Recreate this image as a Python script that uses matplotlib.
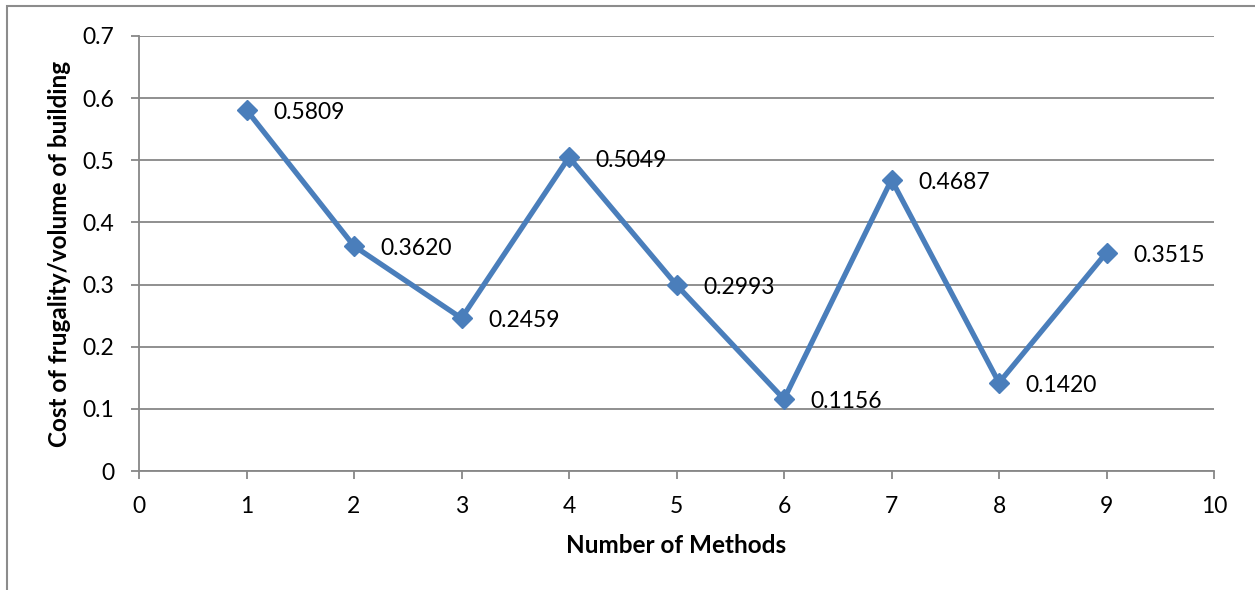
import matplotlib
matplotlib.use("Agg")
import matplotlib.pyplot as plt
from matplotlib.patches import Rectangle

methods = [1, 2, 3, 4, 5, 6, 7, 8, 9]
costs = [0.5809, 0.3620, 0.2459, 0.5049, 0.2993, 0.1156, 0.4687, 0.1420, 0.3515]
labels = ["0.5809", "0.3620", "0.2459", "0.5049", "0.2993", "0.1156", "0.4687", "0.1420", "0.3515"]
xticks = list(range(0, 11))
yticks = [0, 0.1, 0.2, 0.3, 0.4, 0.5, 0.6, 0.7]
ytick_labels = ["0", "0.1", "0.2", "0.3", "0.4", "0.5", "0.6", "0.7"]

plt.rcParams['font.family'] = ['Lato', 'DejaVu Sans']

fig = plt.figure(figsize=(12.55, 5.9), dpi=100)
# chart area frame (cut at right/bottom in reference)
fig.add_artist(Rectangle((7 / 1255, -0.05), 1.1, (590 - 6) / 590 + 0.05,
                         transform=fig.transFigure, fill=False,
                         edgecolor='#8c8c8c', linewidth=1.5))

ax = fig.add_axes([139 / 1255, 1 - 471 / 590, (1214 - 139) / 1255, (471 - 36) / 590])
grid_c = '#878787'
ax.set_xlim(0, 10)
ax.set_ylim(0, 0.7)
ax.set_xticks(xticks)
ax.set_yticks(yticks)
ax.set_yticklabels(ytick_labels)
ax.yaxis.grid(True, color=grid_c, linewidth=1.3)
ax.set_axisbelow(True)
for s in ['top', 'right']:
    ax.spines[s].set_visible(False)
for s in ['left', 'bottom']:
    ax.spines[s].set_color(grid_c)
    ax.spines[s].set_linewidth(1.3)
ax.tick_params(axis='both', direction='out', length=6, width=1.3, color=grid_c,
               labelsize=16.5)
ax.tick_params(axis='y', pad=12)
ax.tick_params(axis='x', pad=12)

ax.plot(methods, costs, color='#4A7EBB', linewidth=3.8, marker='D',
        markersize=10.5, markerfacecolor='#4A7EBB', markeredgecolor='#4A7EBB',
        clip_on=False, zorder=3)
for x, y, t in zip(methods, costs, labels):
    ax.annotate(t, (x, y), xytext=(19, -2), textcoords='offset points',
                ha='left', va='center', fontsize=16.5)

ax.set_xlabel("Number of Methods", fontsize=17.5, fontweight='bold', labelpad=12)
ax.set_ylabel("Cost of frugality/volume of building", fontsize=17.5, fontweight='bold', labelpad=8)

fig.savefig("out.png", dpi=100)
